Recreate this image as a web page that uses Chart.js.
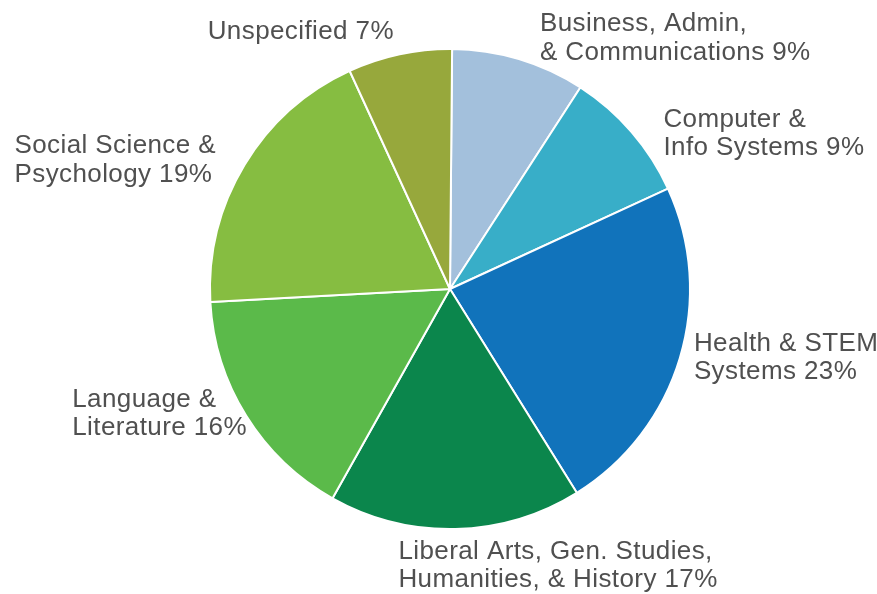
<!DOCTYPE html>
<html>
<head>
<meta charset="utf-8">
<script src="https://cdn.jsdelivr.net/npm/chart.js@4"></script>
<style>
html,body{margin:0;padding:0;background:#fff;}
#box{width:877px;height:594px;}
</style>
</head>
<body>
<div id="box"><canvas id="fieldChart"></canvas></div>
<script>
//数据
var fieldNames=[
    ["Business, Admin,","& Communications 9%"],
    ["Computer &","Info Systems 9%"],
    ["Health & STEM","Systems 23%"],
    ["Liberal Arts, Gen. Studies,","Humanities, & History 17%"],
    ["Language &","Literature 16%"],
    ["Social Science &","Psychology 19%"],
    ["Unspecified 7%"]
];
var fieldShares=[9,9,23,17,16,19,7];
var fieldColors=["#a3c0dc","#38aec8","#1173bb","#0b864c","#5bba4a","#86bd41","#97a83c"];

//标签相对扇区外沿中点的偏移
var labelPlace=[
    {dx:21,dy:-28},
    {dx:32,dy:-5},
    {dx:14,dy:-7},
    {dx:-57,dy:30},
    {dx:-174,dy:-9},
    {dx:-230,dy:-12},
    {dx:-192,dy:-15}
];

var outsideLabels={
    id:"outsideLabels",
    afterDatasetsDraw:function(chart){
        var ctx=chart.ctx;
        var arcs=chart.getDatasetMeta(0).data;
        ctx.save();
        ctx.font="26px 'Liberation Sans', Arial, sans-serif";
        ctx.letterSpacing="0.4px";
        ctx.fillStyle="#505050";
        ctx.textBaseline="alphabetic";
        ctx.textAlign="left";
        for(var i=0;i<arcs.length;i++){
            var a=arcs[i];
            var mid=(a.startAngle+a.endAngle)/2;
            var ax=a.x+Math.cos(mid)*a.outerRadius;
            var ay=a.y+Math.sin(mid)*a.outerRadius;
            var p=labelPlace[i];
            var lines=fieldNames[i];
            for(var k=0;k<lines.length;k++){
                ctx.fillText(lines[k],ax+p.dx,ay+p.dy+k*28.5);
            }
        }
        ctx.restore();
    }
};

var fieldChart=new Chart(document.getElementById("fieldChart"),{
    type:"pie",
    data:{
        labels:fieldNames.map(function(l){return l.join(" ");}),
        datasets:[{
            data:fieldShares,
            backgroundColor:fieldColors,
            borderColor:"#ffffff",
            borderWidth:2
        }]
    },
    options:{
        responsive:true,
        maintainAspectRatio:false,
        animation:false,
        rotation:0.5,
        layout:{padding:{top:48,bottom:64,left:209,right:186}},
        plugins:{
            legend:{display:false},
            tooltip:{enabled:false}
        }
    },
    plugins:[outsideLabels]
});
</script>
</body>
</html>
